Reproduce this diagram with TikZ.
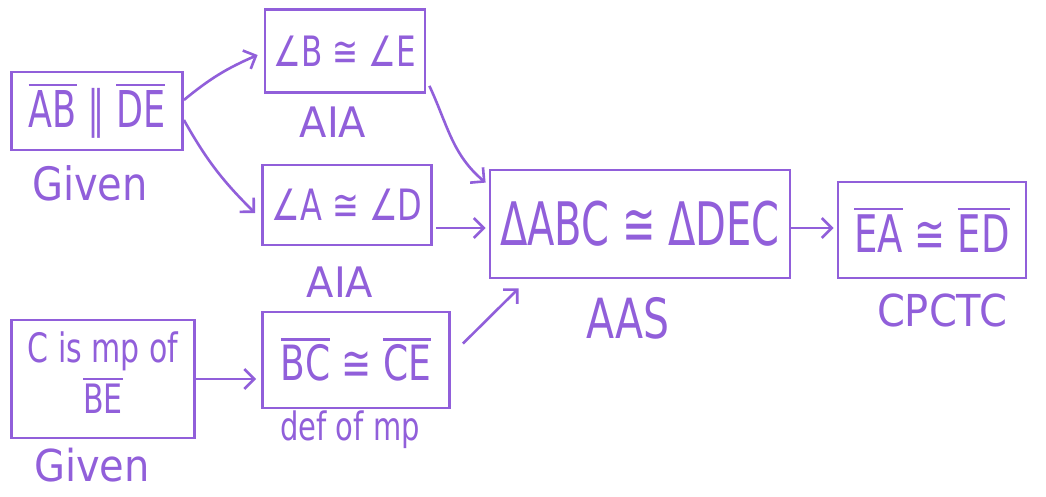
\documentclass[tikz,border=0pt]{standalone}
\usepackage{fontspec}
\usepackage{graphicx}
\setmainfont{DejaVu Sans}
\usetikzlibrary{arrows.meta,calc}
\definecolor{pen}{RGB}{145,95,218}
% segment with a bar drawn over it
\newcommand{\seg}[1]{\leavevmode\vbox{\hrule height 1.8pt\kern 3pt\hbox{#1}}}
% text stretched vertically: \tall{factor}{text}
\newcommand{\tall}[2]{\scalebox{1}[#1]{#2}}
\newcommand{\fs}[1]{\fontsize{#1}{#1}\selectfont}
\begin{document}
\begin{tikzpicture}[x=1pt,y=1pt,
  every node/.style={text=pen},
  stmt/.style={draw=pen,line width=2.8pt,rectangle,inner sep=0pt},
  flow/.style={draw=pen,line width=2.6pt,-{Straight Barb[length=10pt,width=20pt,line width=2.6pt]}}]
\useasboundingbox (0,0) rectangle (1046,-496);

% statements
\node[stmt,minimum width=171,minimum height=78] (b1) at (97,-111) {\fs{35}\tall{1.45}{\seg{AB} ∥ \seg{DE}}};
\node[stmt,minimum width=160,minimum height=83] (b2) at (345,-51) {\fs{31}\tall{1.35}{∠B ≅ ∠E}};
\node[stmt,minimum width=169,minimum height=80] (b3) at (347,-205) {\fs{32}\tall{1.35}{∠A ≅ ∠D}};
\node[stmt,minimum width=183,minimum height=118] (b4) at (103,-379)
  {\fs{30}\tall{1.35}{\begin{tabular}{@{}c@{}}C is mp of\\[2pt]\seg{BE}\end{tabular}}};
\node[stmt,minimum width=187,minimum height=96] (b5) at (356,-360) {\fs{36}\tall{1.35}{\seg{BC} ≅ \seg{CE}}};
\node[stmt,minimum width=300,minimum height=108] (b6) at (640,-224) {\fs{40}\tall{1.5}{ΔABC ≅ ΔDEC}};
\node[stmt,minimum width=188,minimum height=96] (b7) at (932,-230) {\fs{37}\tall{1.4}{\seg{EA} ≅ \seg{ED}}};

% reasons
\node (r1) at (90,-183) {\fs{40}\tall{1.15}{Given}};
\node (r2) at (333,-122) {\fs{40}\tall{1.05}{AIA}};
\node (r3) at (340,-282) {\fs{40}\tall{1.05}{AIA}};
\node (r4) at (92,-465) {\fs{40}\tall{1.1}{Given}};
\node (r5) at (350,-430) {\fs{29}\tall{1.35}{def of mp}};
\node (r6) at (628,-318) {\fs{41}\tall{1.35}{AAS}};
\node (r7) at (942,-310) {\fs{40}\tall{1.1}{CPCTC}};

% connectors
\draw[flow] ([yshift=11]b1.east) to[bend left=8] ([xshift=-6,yshift=-4]b2.west);
\draw[flow] ([yshift=-9]b1.east) to[bend right=8] ([xshift=-6,yshift=-8]b3.west);
\draw[flow] ([xshift=3,yshift=8]b2.south east) to[out=-65,in=140] ([xshift=-3,yshift=-14]b6.north west);
\coordinate (s3) at ([xshift=3,yshift=-23]b3.east);
\draw[flow] (s3) -- ([xshift=-3]s3 -| b6.west);
\draw[flow] ([xshift=12,yshift=-33]b5.north east) -- ([xshift=30,yshift=-9]b6.south west);
\draw[flow] (b4.east) -- ([xshift=-5]b4.east -| b5.west);
\draw[flow] ([yshift=-4]b6.east) -- ([xshift=-3,yshift=-4]b6.east -| b7.west);
\end{tikzpicture}
\end{document}
